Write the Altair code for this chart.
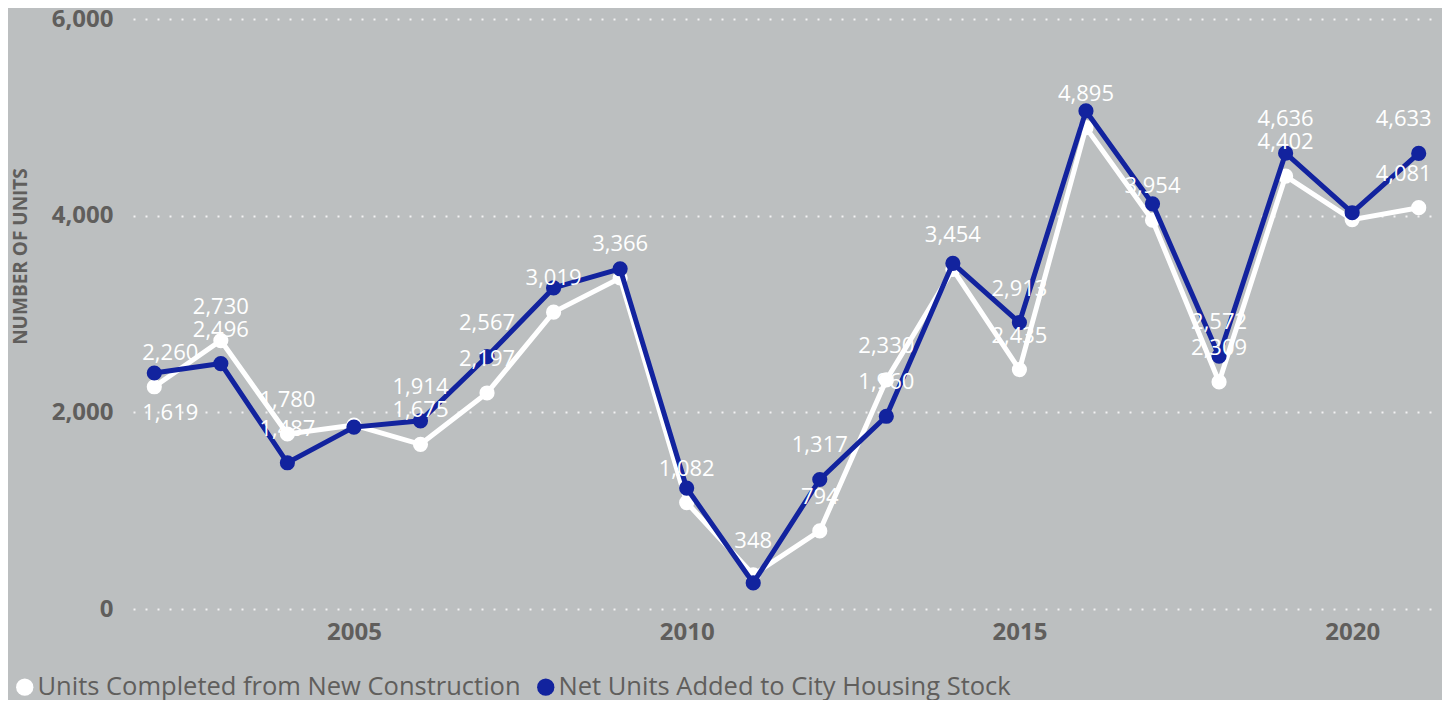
import altair as alt
import pandas as pd

years = list(range(2002, 2022))
new_construction = [2260, 2730, 1780, 1870, 1675, 2197, 3019, 3366, 1082, 348,
                    794, 2330, 3454, 2435, 4895, 3954, 2309, 4402, 3960, 4081]
net_added = [2400, 2496, 1487, 1850, 1914, 2567, 3265, 3460, 1230, 265,
             1317, 1960, 3515, 2913, 5065, 4120, 2572, 4636, 4030, 4633]
new_construction_labels = [2260, 2730, 1780, None, 1675, 2197, 3019, 3366, 1082, 348,
                           794, 2330, 3454, 2435, 4895, 3954, 2309, 4402, None, 4081]
net_added_labels = [1619, 2496, 1487, None, 1914, 2567, None, None, None, None,
                    1317, 1960, None, 2913, None, None, 2572, 4636, None, 4633]
series_names = ["Units Completed from New Construction", "Net Units Added to City Housing Stock"]
series_colors = ["#FFFFFF", "#12239E"]
y_ticks = [0, 2000, 4000, 6000]
x_ticks = [2005, 2010, 2015, 2020]
y_title = "NUMBER OF UNITS"

FONT = "Open Sans"
TEXT_GREY = "#605E5C"
BG = "#BCBFC0"

rows = []
for yr, a, b in zip(years, new_construction, net_added):
    rows.append({"year": yr, "value": a, "series": series_names[0]})
    rows.append({"year": yr, "value": b, "series": series_names[1]})
df = pd.DataFrame(rows)

# labels: each above its own point; a label that would collide with the other
# series' label is moved below its point; labels at the ends are kept inside
lab_rows = []
for yr, a, b, la, lb in zip(years, new_construction, net_added,
                            new_construction_labels, net_added_labels):
    edge = "left" if yr == years[0] else ("right" if yr == years[-1] else "center")
    if la is not None:
        lab_rows.append({"year": yr, "value": a, "text": f"{la:,}",
                         "place": "above", "edge": edge})
    if lb is not None:
        collide = la is not None and abs(a - b) < 200
        lab_rows.append({"year": yr, "value": b, "text": f"{lb:,}",
                         "place": "below" if collide else "above", "edge": edge})
labels = pd.DataFrame(lab_rows)

x_enc = alt.X("year:Q",
              scale=alt.Scale(domain=[2001.68, 2021.32], nice=False, zero=False),
              axis=alt.Axis(values=x_ticks, format="d", title=None, grid=False,
                            domain=False, ticks=False, labelPadding=11,
                            labelFontSize=24, labelFontWeight="bold",
                            labelColor=TEXT_GREY, labelFont=FONT))
y_enc = alt.Y("value:Q",
              scale=alt.Scale(domain=[0, 6000], nice=False),
              axis=alt.Axis(values=y_ticks, format=",.0f", title=y_title,
                            grid=True, gridColor="#FFFFFF", gridDash=[2, 10],
                            gridWidth=2, gridOpacity=0.8,
                            domain=False, ticks=False, labelPadding=20,
                            labelFontSize=24, labelFontWeight="bold",
                            labelColor=TEXT_GREY, labelFont=FONT,
                            titleFont=FONT, titleFontSize=19, titleFontWeight="bold",
                            titleColor=TEXT_GREY, titleX=-113, titleY=237,
                            titleAngle=270, titleAlign="center",
                            titleBaseline="middle"))
color_enc = alt.Color("series:N",
                      scale=alt.Scale(domain=series_names, range=series_colors),
                      legend=alt.Legend(title=None, orient="none", legendX=-121,
                                        legendY=655, direction="horizontal",
                                        symbolType="circle", symbolSize=300,
                                        symbolStrokeWidth=0, labelFont=FONT,
                                        labelFontSize=25.5, labelColor=TEXT_GREY,
                                        labelLimit=0, labelOffset=0,
                                        columnPadding=12))

base = alt.Chart(df).encode(x=x_enc, y=y_enc, color=color_enc)

layers = []
for name in series_names:
    sub = base.transform_filter(alt.datum.series == name)
    layers.append(sub.mark_line(strokeWidth=5))
    layers.append(sub.mark_circle(size=230, opacity=1))

dy_for = {"above": -34, "below": 40}
dx_for = {"left": -12, "center": 0, "right": 13}
lab_base = alt.Chart(labels).encode(x="year:Q", y="value:Q", text="text:N")
for place in ["above", "below"]:
    for edge in ["left", "center", "right"]:
        if not ((labels["place"] == place) & (labels["edge"] == edge)).any():
            continue
        layers.append(
            lab_base.transform_filter(
                (alt.datum.place == place) & (alt.datum.edge == edge)
            ).mark_text(dy=dy_for[place], dx=dx_for[edge], baseline="middle",
                        align=edge, color="#FFFFFF", font=FONT, fontSize=22)
        )

chart = alt.layer(*layers).properties(
    width=1307, height=590,
    autosize=alt.AutoSizeParams(type="none"),
    padding={"left": 125, "top": 11, "right": 2, "bottom": 91},
    background=BG,
).configure_view(stroke=None)

chart.save("out.html", embed_options={"renderer": "svg", "actions": False})
